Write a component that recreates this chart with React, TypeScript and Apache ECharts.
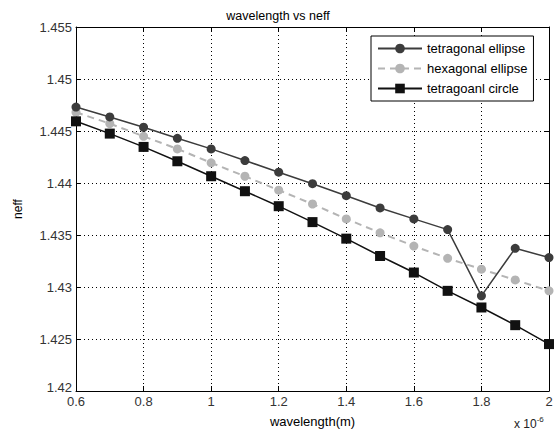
import React, { useEffect, useRef } from "react";
import * as echarts from "echarts";

const wavelengths = [0.6, 0.7, 0.8, 0.9, 1.0, 1.1, 1.2, 1.3, 1.4, 1.5, 1.6, 1.7, 1.8, 1.9, 2.0];
const tetragonalEllipse = [1.4473, 1.44635, 1.44536, 1.4443, 1.44328, 1.44216, 1.44104, 1.43993, 1.43878, 1.4376, 1.43655, 1.43552, 1.42915, 1.43372, 1.43283];
const hexagonalEllipse = [1.4468, 1.44571, 1.44449, 1.44328, 1.44194, 1.44065, 1.43931, 1.43798, 1.43655, 1.43521, 1.43394, 1.43276, 1.43171, 1.43068, 1.42963];
const tetragonalCircle = [1.44593, 1.44475, 1.44347, 1.44209, 1.44065, 1.43921, 1.43777, 1.43624, 1.43465, 1.43298, 1.43139, 1.42963, 1.42803, 1.42633, 1.42451];
const seriesNames = ["tetragonal ellipse", "hexagonal ellipse", "tetragoanl circle"];

const FONT = "Liberation Sans, Arial, sans-serif";

export default function App() {
  const ref = useRef<HTMLDivElement>(null);
  useEffect(() => {
    if (!ref.current) return;
    const chart = echarts.init(ref.current, null, { renderer: "svg" });
    const pair = (ys: number[]) => wavelengths.map((x, i) => [x, ys[i]]);
    const gridLine = { show: true, lineStyle: { color: "#000", type: [1, 3] as any, width: 1 } };
    chart.setOption({
      animation: false,
      backgroundColor: "#fff",
      textStyle: { fontFamily: FONT },
      title: {
        text: "wavelength vs neff",
        left: "center",
        top: 4,
        textStyle: { fontSize: 12.5, fontWeight: "normal", color: "#000", fontFamily: FONT },
      },
      grid: { left: 76, right: 7, top: 27, bottom: 46 },
      legend: {
        orient: "vertical",
        left: 371,
        top: 36,
        padding: [6, 6, 6, 6],
        itemWidth: 44,
        itemHeight: 12,
        itemGap: 7,
        backgroundColor: "#fff",
        borderColor: "#000",
        borderWidth: 1,
        borderRadius: 0,
        textStyle: { fontSize: 13, color: "#000", fontFamily: FONT },
        data: seriesNames,
      },
      xAxis: [
        {
          type: "value",
          min: 0.6,
          max: 2,
          interval: 0.2,
          name: "wavelength(m)",
          nameLocation: "middle",
          nameGap: 24,
          nameTextStyle: { fontSize: 13, color: "#000", fontFamily: FONT },
          axisLine: { lineStyle: { color: "#000", width: 1 } },
          axisTick: { inside: true, length: 5, lineStyle: { color: "#000" } },
          axisLabel: { fontSize: 13, color: "#333", margin: 4, fontFamily: FONT },
          splitLine: gridLine,
        },
        {
          type: "value",
          position: "top",
          min: 0.6,
          max: 2,
          interval: 0.2,
          axisLine: { show: true, lineStyle: { color: "#000", width: 1 } },
          axisTick: { show: true, inside: true, length: 5, lineStyle: { color: "#000" } },
          axisLabel: { show: false },
          splitLine: { show: false },
        },
      ],
      yAxis: [
        {
          type: "value",
          min: 1.42,
          max: 1.455,
          interval: 0.005,
          name: "neff",
          nameLocation: "middle",
          nameGap: 52,
          nameTextStyle: { fontSize: 12, color: "#000", fontFamily: FONT },
          axisLine: { show: true, lineStyle: { color: "#000", width: 1 } },
          axisTick: { show: true, inside: true, length: 5, lineStyle: { color: "#000" } },
          axisLabel: {
            fontSize: 13,
            color: "#333",
            margin: 4,
            fontFamily: FONT,
            formatter: (v: number) => (Math.abs(v - 1.42) < 1e-9 ? "{low|" + v + "}" : String(v)),
            rich: { low: { fontSize: 13, color: "#333", fontFamily: FONT, padding: [0, 0, 8, 0] } },
          },
          splitLine: gridLine,
        },
        {
          type: "value",
          position: "right",
          min: 1.42,
          max: 1.455,
          interval: 0.005,
          axisLine: { show: true, lineStyle: { color: "#000", width: 1 } },
          axisTick: { show: true, inside: true, length: 5, lineStyle: { color: "#000" } },
          axisLabel: { show: false },
          splitLine: { show: false },
        },
      ],
      graphic: [
        {
          type: "text",
          left: 514,
          top: 415,
          style: {
            text: "x 10{s|-6}",
            fontSize: 12,
            fill: "#222",
            fontFamily: FONT,
            rich: { s: { fontSize: 8, verticalAlign: "top", padding: [0, 0, 9, 0], fill: "#222" } },
          } as any,
        },
      ],
      series: [
        {
          name: seriesNames[0],
          type: "line",
          data: pair(tetragonalEllipse),
          symbol: "circle",
          symbolSize: 9,
          itemStyle: { color: "#3c3c3c" },
          lineStyle: { color: "#3c3c3c", width: 1.5 },
          z: 4,
        },
        {
          name: seriesNames[1],
          type: "line",
          data: pair(hexagonalEllipse),
          symbol: "circle",
          symbolSize: 9,
          itemStyle: { color: "#b4b4b4" },
          lineStyle: { color: "#b4b4b4", width: 2, type: [7, 5] as any },
          z: 3,
        },
        {
          name: seriesNames[2],
          type: "line",
          data: pair(tetragonalCircle),
          symbol: "rect",
          symbolSize: 10,
          itemStyle: { color: "#111" },
          lineStyle: { color: "#111", width: 1.5 },
          z: 5,
        },
      ],
    });
    return () => chart.dispose();
  }, []);
  return <div ref={ref} style={{ width: 556, height: 437, position: "absolute", left: 0, top: 0 }} />;
}
